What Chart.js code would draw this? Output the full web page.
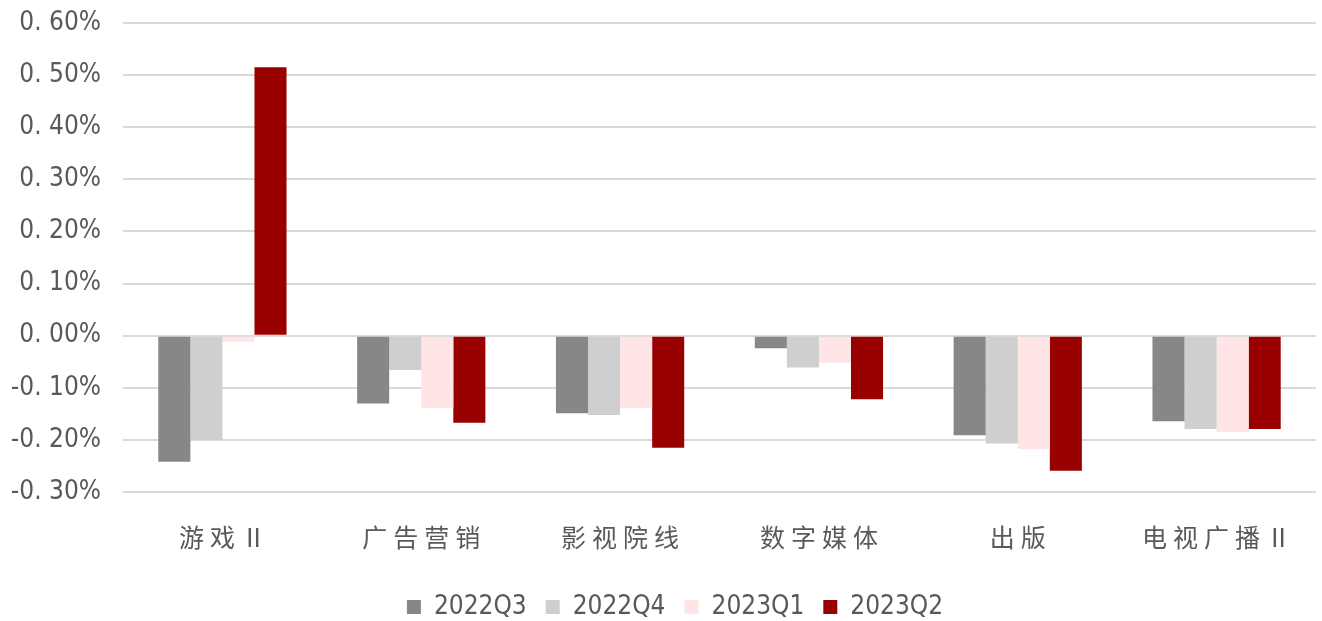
<!DOCTYPE html>
<html>
<head>
<meta charset="utf-8">
<script src="https://cdn.jsdelivr.net/npm/chart.js@4.4.0/dist/chart.umd.min.js"></script>
<style>
  html, body { margin: 0; padding: 0; background: #ffffff; }
  #wrap { width: 1322px; height: 621px; }
</style>
</head>
<body>
<div id="wrap"><canvas id="bars" width="1322" height="621"></canvas></div>
<script>
const categories = ['游戏Ⅱ', '广告营销', '影视院线', '数字媒体', '出版', '电视广播Ⅱ'];
const seriesNames = ['2022Q3', '2022Q4', '2023Q1', '2023Q2'];
const q3_2022 = [-0.242, -0.130, -0.149, -0.024, -0.191, -0.164];
const q4_2022 = [-0.200, -0.066, -0.152, -0.061, -0.207, -0.179];
const q1_2023 = [-0.012, -0.139, -0.139, -0.052, -0.218, -0.185];
const q2_2023 = [0.515, -0.167, -0.215, -0.122, -0.259, -0.179];
const seriesColors = ['#878787', '#cfcfcf', '#ffe5e5', '#990000'];

const narrow = "'Liberation Sans Narrow', 'DejaVu Sans Condensed', 'Liberation Sans', sans-serif";
const cjk = "'Noto Sans CJK SC', sans-serif";

// small tweaks: spaced category names, fixed legend height, legend nudged right
const tweaks = {
    id: 'tweaks',
    beforeLayout(chart) {
        const lg = chart.legend;
        if (lg && !lg._patched) {
            const fit = lg.fit;
            lg.fit = function () { fit.call(this); this.height = 46; };
            const draw = lg.draw;
            lg.draw = function () {
                this.ctx.save();
                this.ctx.translate(17, 0);
                draw.call(this);
                this.ctx.restore();
            };
            lg._patched = true;
        }
    },
    afterLayout(chart) {
        const sx = chart.scales.x;
        if (sx._spaced) return;
        const orig = sx.drawLabels;
        sx.drawLabels = function (area) {
            const c = this.ctx;
            c.save();
            c.letterSpacing = '6px';
            c.translate(3, 0);
            orig.call(this, area);
            c.restore();
        };
        sx._spaced = true;
    }
};

const ctx = document.getElementById('bars').getContext('2d');
const chart = new Chart(ctx, {
    type: 'bar',
    data: {
        labels: categories,
        datasets: [q3_2022, q4_2022, q1_2023, q2_2023].map((vals, i) => ({
            label: seriesNames[i],
            data: vals,
            backgroundColor: seriesColors[i],
            borderWidth: 0,
            barPercentage: 1,
            categoryPercentage: 0.645
        }))
    },
    options: {
        responsive: false,
        animation: false,
        layout: { padding: { top: 23, right: 6, left: 0, bottom: 0 } },
        plugins: {
            tooltip: { enabled: false },
            legend: {
                position: 'bottom',
                labels: {
                    boxWidth: 14, boxHeight: 14, padding: 19,
                    color: '#595959',
                    font: { family: narrow, size: 26 }
                }
            }
        },
        scales: {
            x: {
                grid: { display: false, drawTicks: false },
                border: { display: false },
                ticks: { color: '#595959', padding: 30, font: { family: cjk, size: 25 } },
                afterFit: s => { s.height = 83; }
            },
            y: {
                min: -0.3, max: 0.6,
                grid: { color: '#d9d9d9', lineWidth: 2, drawTicks: false },
                border: { display: false },
                ticks: {
                    stepSize: 0.1,
                    padding: 22,
                    color: '#595959',
                    font: { family: narrow, size: 26 },
                    callback: v => v.toFixed(2).replace('.', '. ') + '%'
                },
                afterFit: s => { s.width = 123; s.paddingTop = 0; s.paddingBottom = 0; }
            }
        }
    },
    plugins: [tweaks]
});
</script>
</body>
</html>
